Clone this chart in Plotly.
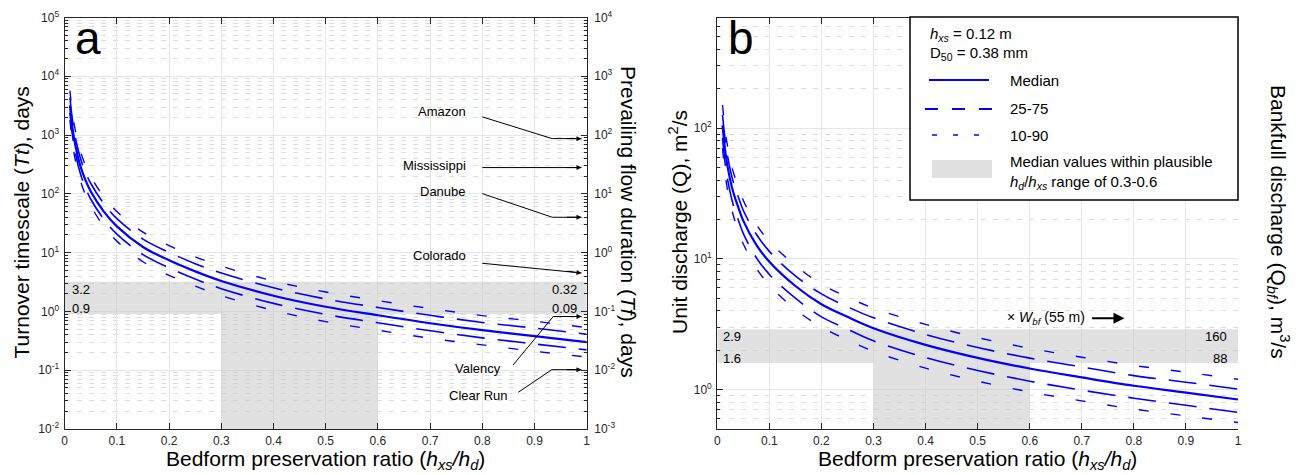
import math
import plotly.graph_objects as go

# ---------------- data ----------------
ratio = [0.01, 0.015, 0.02, 0.03, 0.04, 0.05, 0.075, 0.1, 0.15, 0.2, 0.25, 0.3,
         0.4, 0.5, 0.6, 0.7, 0.8, 0.9, 1.0]

# panel a: turnover timescale (days)
tt_p90 = [5700, 2310, 1250, 534, 303, 196, 89, 50, 22.3, 13.2, 8.5, 5.9, 3.3, 2.14, 1.53, 1.12, 0.85, 0.68, 0.53]
tt_p75 = [4350, 1770, 950, 408, 231, 150, 68, 38, 17, 10.1, 6.5, 4.5, 2.52, 1.63, 1.17, 0.86, 0.65, 0.52, 0.41]
tt_med = [3200, 1300, 700, 300, 170, 110, 50, 28, 12.5, 7.4, 4.8, 3.3, 1.85, 1.2, 0.86, 0.63, 0.48, 0.38, 0.30]
tt_p25 = [2370, 960, 518, 222, 126, 81, 37, 20.7, 9.25, 5.5, 3.55, 2.44, 1.37, 0.89, 0.64, 0.47, 0.355, 0.28, 0.222]
tt_p10 = [1800, 730, 392, 168, 95, 62, 28, 15.7, 7.0, 4.1, 2.7, 1.85, 1.04, 0.67, 0.48, 0.35, 0.27, 0.21, 0.168]

# panel b: unit discharge (m2/s)
q_p90 = [150, 97, 71.5, 47, 36, 27.9, 18.3, 13.6, 8.9, 6.4, 5.1, 4.2, 3.15, 2.5, 2.07, 1.77, 1.53, 1.36, 1.2]
q_p75 = [126, 82, 60, 39.6, 30, 23.4, 15.4, 11.4, 7.4, 5.4, 4.3, 3.54, 2.64, 2.1, 1.74, 1.49, 1.28, 1.14, 1.01]
q_med = [105, 68, 50, 33, 25, 19.5, 12.8, 9.5, 6.2, 4.5, 3.6, 2.95, 2.2, 1.75, 1.45, 1.24, 1.07, 0.95, 0.84]
q_p25 = [84, 54, 40, 26.4, 20, 15.6, 10.2, 7.6, 5.0, 3.6, 2.9, 2.36, 1.76, 1.4, 1.16, 0.99, 0.86, 0.76, 0.67]
q_p10 = [70, 45, 33, 22, 16.6, 13, 8.5, 6.3, 4.1, 3.0, 2.4, 1.96, 1.46, 1.16, 0.96, 0.82, 0.71, 0.63, 0.56]

plausible_x = [0.3, 0.6]
tt_band = [0.9, 3.2]          # left axis a
tf_band = [0.09, 0.32]        # right axis a
q_band = [1.6, 2.9]           # left axis b
qbf_band = [88, 160]          # right axis b
width_bf = 55                 # m

rivers = ["Amazon", "Mississippi", "Danube", "Colorado", "Valency", "Clear Run"]
river_tf = [87, 28, 4.0, 0.45, 0.082, 0.0102]   # prevailing flow duration, days

BLUE = "#0000ff"
GRAY = "rgba(200,200,200,0.55)"
AX = "#262626"
FONT = "Liberation Sans, Arial, Helvetica, sans-serif"

# page body has an 8 px default margin: figure is 1292x467, placed at (8, 8)
W, H, OFF = 1292, 467, 8

def px(x):
    return (x - OFF) / W

def py(y):
    return 1 - (y - OFF) / H

fig = go.Figure()

def add_band(xa, ya, band, ymin):
    x0, x1 = plausible_x
    fig.add_trace(go.Scatter(x=[0, 1, 1, 0, 0], y=[band[0], band[0], band[1], band[1], band[0]],
                             fill="toself", fillcolor=GRAY, mode="lines", line=dict(width=0),
                             xaxis=xa, yaxis=ya, hoverinfo="skip", showlegend=False))
    fig.add_trace(go.Scatter(x=[x0, x1, x1, x0, x0], y=[ymin, ymin, band[0], band[0], ymin],
                             fill="toself", fillcolor=GRAY, mode="lines", line=dict(width=0),
                             xaxis=xa, yaxis=ya, hoverinfo="skip", showlegend=False))

add_band("x", "y", tt_band, 0.01)
add_band("x2", "y2", q_band, 0.5)

def add_curves(xa, ya, p90, p75, med, p25, p10):
    for ys, dash, w in [(p90, "10px,22px", 1.4), (p10, "10px,22px", 1.4),
                        (p75, "28px,13px", 1.6), (p25, "28px,13px", 1.6),
                        (med, "solid", 2.2)]:
        fig.add_trace(go.Scatter(x=ratio, y=ys, mode="lines",
                                 line=dict(color=BLUE, width=w, dash=dash, shape="spline"),
                                 xaxis=xa, yaxis=ya, hoverinfo="skip", showlegend=False))

add_curves("x", "y", tt_p90, tt_p75, tt_med, tt_p25, tt_p10)
add_curves("x2", "y2", q_p90, q_p75, q_med, q_p25, q_p10)

# river connectors on the right axis of panel a
tip_x = 0.99
river_paths = {
    "Amazon": ([0.80, 0.934, tip_x], [204, None, None]),
    "Mississippi": ([0.80, tip_x], [None, None]),
    "Danube": ([0.80, 0.934, tip_x], [10.1, None, None]),
    "Colorado": ([0.80, tip_x], [0.66, None]),
    "Valency": ([0.859, 0.936, tip_x], [0.01225, None, None]),
    "Clear Run": ([0.869, 0.933, tip_x], [0.00422, None, None]),
}
label_pos = {
    "Amazon": (0.773, "right", 251),
    "Mississippi": (0.773, "right", 30.8),
    "Danube": (0.773, "right", 10.9),
    "Colorado": (0.773, "right", 0.90),
    "Valency": (0.792, "center", 0.0105),
    "Clear Run": (0.792, "center", 0.00369),
}
annotations = []
for name, val in zip(rivers, river_tf):
    xs, ys = river_paths[name]
    ys = [val if v is None else v for v in ys]
    fig.add_trace(go.Scatter(x=xs, y=ys, mode="lines", line=dict(color="black", width=1),
                             xaxis="x", yaxis="y3", hoverinfo="skip", showlegend=False))
    ay = -2 if name == "Colorado" else 0
    annotations.append(dict(x=tip_x, y=math.log10(val), xref="x", yref="y3", text="",
                            showarrow=True, ax=-16, ay=ay, arrowhead=2, arrowsize=1,
                            arrowwidth=1, arrowcolor="black"))
    lx, anch, ly = label_pos[name]
    annotations.append(dict(x=lx, y=math.log10(ly), xref="x", yref="y3", text=name,
                            showarrow=False, xanchor=anch, yanchor="middle",
                            font=dict(size=13, color="black", family=FONT)))

# band value labels
small = dict(size=13, color="black", family=FONT)
def lab(x, y, xr, yr, text, anchor):
    return dict(x=x, y=y, xref=xr, yref=yr, text=text, showarrow=False,
                xanchor=anchor, yanchor="middle", font=small)

annotations += [
    lab(0.01, math.log10(2.39), "x", "y", f"{tt_band[1]}", "left"),
    lab(0.01, math.log10(1.12), "x", "y", f"{tt_band[0]}", "left"),
    lab(0.985, math.log10(0.239), "x", "y3", f"{tf_band[1]}", "right"),
    lab(0.985, math.log10(0.112), "x", "y3", f"{tf_band[0]:.2f}", "right"),
    lab(0.008, math.log10(2.55), "x2", "y2", f"{q_band[1]}", "left"),
    lab(0.008, math.log10(1.74), "x2", "y2", f"{q_band[0]}", "left"),
    lab(0.982, math.log10(2.55), "x2", "y2", f"{qbf_band[1]}", "right"),
    lab(0.982, math.log10(1.74), "x2", "y2", f"{qbf_band[0]}", "right"),
    dict(x=0.552, y=0.545, xref="x2", yref="y2", text=f"× <i>W</i><sub><i>bf</i></sub> ({width_bf} m)",
         showarrow=False, xanchor="left", yanchor="middle",
         font=dict(size=14, color="black", family=FONT)),
    dict(x=0.782, y=0.545, xref="x2", yref="y2", text="", showarrow=True, ax=-34, ay=0,
         arrowhead=2, arrowsize=1.1, arrowwidth=2, arrowcolor="black"),
]

def ptext(x, y, text, font, angle=0, xanchor="center", align="center"):
    return dict(x=px(x), y=py(y), xref="paper", yref="paper", text=text, showarrow=False,
                xanchor=xanchor, yanchor="middle", textangle=angle, font=font, align=align)

# panel letters
letter = dict(size=46, color="black", family=FONT)
annotations += [ptext(88, 38, "a", letter), ptext(741, 38, "b", letter)]

# axis titles
tfont = dict(size=21, color="black", family=FONT)
xt = "Bedform preservation ratio (<i>h</i><sub><i>xs</i></sub><i>/h</i><sub><i>d</i></sub>)"
annotations += [
    ptext(325.7, 460, xt, tfont),
    ptext(977.5, 460, xt, tfont),
    ptext(21, 222.5, "Turnover timescale (<i>Tt</i>), days", tfont, angle=-90),
    ptext(629, 222, "Prevailing flow duration (<i>Tf</i>), days", tfont, angle=90),
    ptext(678, 222, "Unit discharge (Q), m<sup>2</sup>/s", tfont, angle=-90),
    ptext(1279, 222, "Bankfull discharge (Q<sub><i>bf</i></sub>), m<sup>3</sup>/s", tfont, angle=90),
]

# manual legend for panel b
shapes = [
    dict(type="rect", xref="paper", yref="paper", x0=px(910), x1=px(1238), y0=py(200), y1=py(17),
         fillcolor="white", line=dict(color="black", width=1.5), layer="above"),
    dict(type="line", xref="paper", yref="paper", x0=px(929), x1=px(989), y0=py(80), y1=py(80),
         line=dict(color=BLUE, width=2.2), layer="above"),
    dict(type="line", xref="paper", yref="paper", x0=px(925), x1=px(995), y0=py(109), y1=py(109),
         line=dict(color=BLUE, width=1.8, dash="13px,14px"), layer="above"),
    dict(type="line", xref="paper", yref="paper", x0=px(932), x1=px(992), y0=py(135), y1=py(135),
         line=dict(color=BLUE, width=1.4, dash="5px,16px"), layer="above"),
    dict(type="rect", xref="paper", yref="paper", x0=px(932), x1=px(992), y0=py(178), y1=py(160),
         fillcolor="#e1e1e1", line=dict(width=0), layer="above"),
]
lfont = dict(size=15, color="black", family=FONT)
annotations += [
    ptext(928, 35, "<i>h</i><sub><i>xs</i></sub> = 0.12 m", lfont, xanchor="left"),
    ptext(928, 54, "D<sub>50</sub> = 0.38 mm", lfont, xanchor="left"),
    ptext(1008, 80, "Median", lfont, xanchor="left"),
    ptext(1008, 109, "25-75", lfont, xanchor="left"),
    ptext(1008, 135, "10-90", lfont, xanchor="left"),
    ptext(1008, 172, "Median values within plausible<br><i>h</i><sub><i>d</i></sub>/<i>h</i><sub><i>xs</i></sub> range of 0.3-0.6",
          lfont, xanchor="left", align="left"),
]

# ---------------- axes ----------------
def pow_ticks(lo, hi):
    vals = [10.0 ** k for k in range(lo, hi + 1)]
    txt = [f"10<sup>{k}</sup>" for k in range(lo, hi + 1)]
    return vals, txt

tickfont = dict(size=12, color=AX, family=FONT)
xcommon = dict(range=[0, 1], dtick=0.1, tick0=0, ticks="inside", ticklen=6, tickcolor=AX,
               mirror="ticks", showline=True, linecolor=AX, linewidth=1.3,
               showgrid=True, gridcolor="#e6e6e6", gridwidth=1, zeroline=False,
               tickfont=tickfont, automargin=False)
minor = dict(ticks="inside", ticklen=3, tickcolor=AX, dtick="D1", showgrid=True,
             gridcolor="#dcdcdc", griddash="5px,7px", gridwidth=1)
ycommon = dict(type="log", ticks="inside", ticklen=6,
               tickcolor=AX, showline=True, linecolor=AX, linewidth=1.3, showgrid=True,
               gridcolor="#e6e6e6", zeroline=False, tickfont=tickfont, minor=minor,
               automargin=False, ticklabelstandoff=2)
yright = dict(type="log", ticks="inside", ticklen=6, tickcolor=AX, showline=True, linecolor=AX,
              linewidth=1.3, showgrid=False, zeroline=False,
              minor=dict(ticks="inside", ticklen=3, tickcolor=AX, dtick="D1", showgrid=False),
              automargin=False, side="right", ticklabelstandoff=4)

va, ta = pow_ticks(-2, 5)
va3, ta3 = pow_ticks(-3, 4)
vb, tb = pow_ticks(0, 2)

ydom = [py(429), py(17.5)]
fig.update_layout(
    width=W, height=H,
    margin=dict(l=0, r=0, t=0, b=0),
    paper_bgcolor="white", plot_bgcolor="white",
    showlegend=False,
    font=dict(family=FONT),
    xaxis=dict(domain=[px(64.7), px(586.7)], anchor="y", **xcommon),
    yaxis=dict(domain=ydom, anchor="x", range=[-2, 5], tickvals=va, ticktext=ta, **ycommon),
    yaxis3=dict(overlaying="y", anchor="x", range=[-3, 4], tickvals=va3, ticktext=ta3,
                tickfont=tickfont, **yright),
    xaxis2=dict(domain=[px(717.3), px(1238)], anchor="y2", **xcommon),
    yaxis2=dict(domain=ydom, anchor="x2", range=[math.log10(0.5), math.log10(700)],
                tickvals=vb, ticktext=tb, **ycommon),
    yaxis4=dict(overlaying="y2", anchor="x2",
                range=[math.log10(0.5 * width_bf), math.log10(700 * width_bf)],
                tickvals=[100, 1000, 10000],
                ticktext=["10<sup>2</sup>", "10<sub>3</sub>", "10<sup>4</sup>"],
                tickfont=dict(size=11, color=AX, family=FONT), **yright),
    shapes=shapes,
    annotations=annotations,
)

fig.write_html("out.html")
